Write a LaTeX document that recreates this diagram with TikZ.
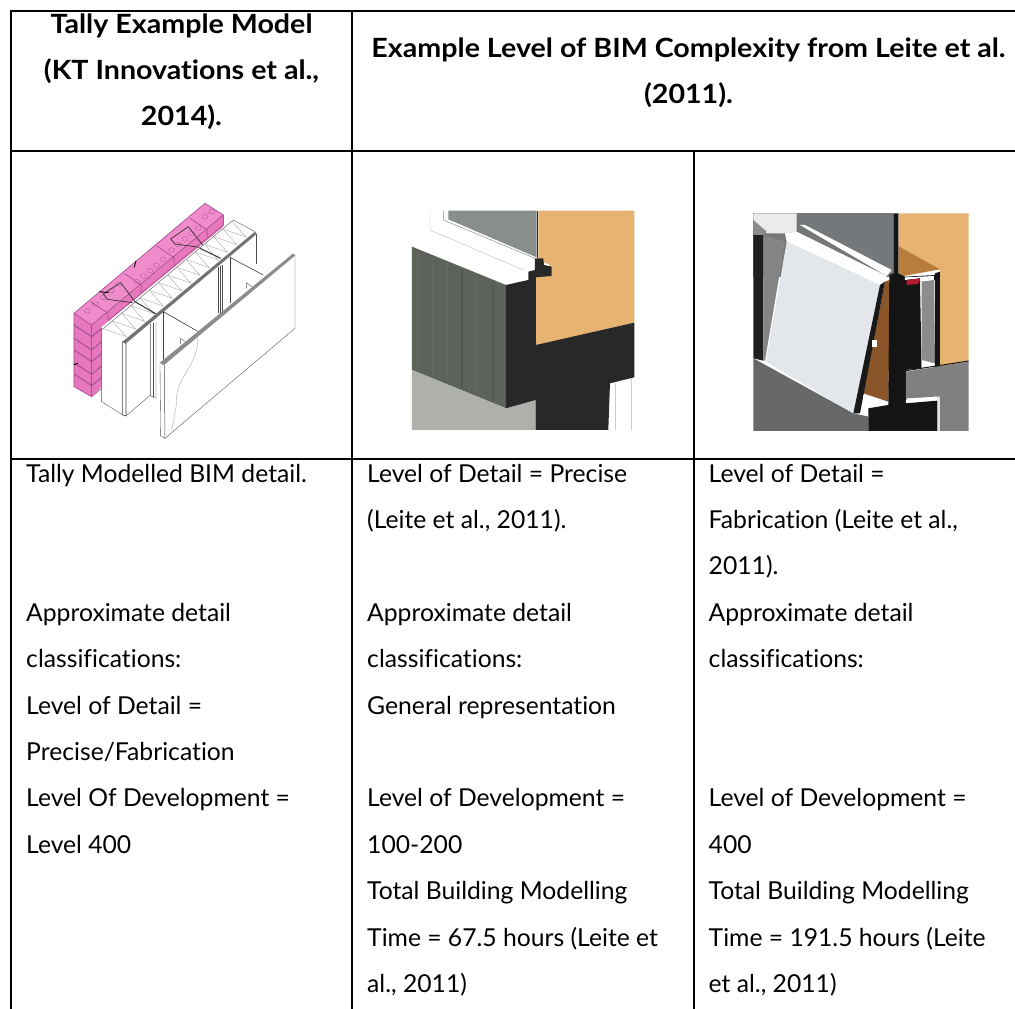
\documentclass[tikz,border=0pt]{standalone}
\usepackage{fontspec}
\setmainfont{Lato}[Ligatures=NoCommon]
\newfontfamily\headfont{Lato}[FakeStretch=1.08,Ligatures=NoCommon]
\definecolor{brickT}{HTML}{F08CCB}
\definecolor{brickS}{HTML}{E878BE}
\definecolor{brickL}{HTML}{A85090}
\definecolor{glass}{HTML}{888E8C}
\definecolor{ply}{HTML}{E6B373}
\definecolor{blk}{HTML}{282828}
\definecolor{conc}{HTML}{5D625A}
\definecolor{concL}{HTML}{666B63}
\definecolor{paleg}{HTML}{ADB0AB}
\definecolor{wallg}{HTML}{75787A}
\definecolor{floorg}{HTML}{66686A}
\definecolor{panel}{HTML}{E3E6EA}
\definecolor{brown}{HTML}{8A5528}
\definecolor{brownL}{HTML}{B87D3D}
\definecolor{redp}{HTML}{B01C30}
\tikzset{
  rule/.style={line width=2pt,black},
  bodytext/.style={anchor=north west,inner sep=0pt,align=left,font=\fontsize{24.7}{46.4}\selectfont},
  headtext/.style={anchor=north,inner sep=0pt,align=center,font=\fontsize{26.5}{46.4}\selectfont\headfont\bfseries},
  drawing/.style={x=0.3333pt,y=-0.3333pt},
  thinl/.style={line width=0.35pt,black!70},
  bk/.style={line width=0.7pt,brickL},
}
\begin{document}
\begin{tikzpicture}[x=1pt,y=-1pt]
\useasboundingbox (0,0) rectangle (1015,1009);
\fill[white] (0,0) rectangle (1015,1009);

% ---------- image 1 : brick / stud wall
\begin{scope}[shift={(0pt,-170pt)},drawing]
  \fill[brickS] (222,430) -- (275,465) -- (670,135) -- (670,170) -- (305,470) -- (305,650) -- (275,680) -- (222,650) -- cycle;
  \fill[brickT] (222,430) -- (615,100) -- (670,135) -- (275,465) -- cycle;
  \draw[bk] (222,430) -- (615,100) -- (670,135) -- (275,465) -- cycle;
  \draw[bk] (222,430) -- (222,650) -- (275,680) -- (305,655);
  \draw[bk] (275,465) -- (275,680);
  \foreach \d in {35,75,110,148,182}{
    \draw[line width=1.1pt,brickL] (222,430+\d) -- (275,465+\d) -- (305,440+\d);
  }
  \foreach \a/\b in {272/395,372/310,470/228,570/145}{
    \draw[bk] (\a,\b) -- (\a+52,\b+35) -- (\a+52,\b+57);
  }
  \draw[bk] (275,465) -- (275,490) (670,135) -- (670,165);
  \draw[bk] (325,452) -- (670,165);
  \foreach \t in {0,...,4}{
    \draw[line width=0.3pt,brickL] ({262+\t*24},{422-\t*20}) ellipse (9 and 7);
    \draw[line width=0.3pt,brickL] ({410+\t*20},{335-\t*16.5}) ellipse (9 and 7);
    \draw[line width=0.3pt,brickL] ({515+\t*20},{240-\t*16.5}) ellipse (9 and 7);
  }
  \draw[line width=0.3pt,brickL] (615,140) ellipse (9 and 7) (635,124) ellipse (9 and 7);
  % insulation
  \fill[white] (305,480) -- (700,150) -- (765,185) -- (370,515) -- cycle;
  \draw[thinl] (305,480) -- (700,150) -- (765,185);
  \foreach \t in {0,...,13}{
    \draw[line width=0.3pt,black!40] ({310+\t*27.6},{476-\t*23}) -- ({379+\t*27.6},{500-\t*23}) -- ({337.6+\t*27.6},{453-\t*23});
  }
  \draw[line width=1.1pt,black!75] (405,395) -- (468,432) (600,235) -- (662,265);
  % wall body
  \fill[white] (305,480) -- (368,515) -- (368,735) -- (305,695) -- cycle;
  \draw[thinl] (305,480) -- (305,695) -- (368,735);
  \fill[white] (378,520) -- (768,192) -- (768,282) -- (378,738) -- cycle;
  \fill[black!55] (368,515) -- (765,185) -- (770,192) -- (378,520) -- cycle;
  \fill[white] (368,515) -- (378,520) -- (378,738) -- (368,735) -- cycle;
  \draw[line width=0.55pt,black!75] (368,515) -- (368,735) -- (378,738) -- (378,520) -- cycle;
  \draw[thinl] (378,738) -- (452,675);
  % studs
  \draw[thinl] (452,462) -- (452,678) -- (468,685) -- (468,455);
  \draw[thinl] (460,458) -- (460,680);
  \draw[thinl] (655,292) -- (655,430) (668,285) -- (668,425) (662,288) -- (662,428);
  \draw[line width=0.4pt,black!75] (490,425) -- (490,580);
  \draw[line width=0.55pt,black!80] (490,425) -- (595,485);
  \draw[line width=0.4pt,black!75] (690,262) -- (690,400);
  \draw[line width=0.55pt,black!80] (690,262) -- (790,315);
  \draw[thinl] (768,192) -- (768,282);
  \draw[thinl] (542,522) -- (542,505) -- (556,515);
  \draw[thinl] (740,355) -- (740,338) -- (755,350);
  % front board
  \fill[white] (480,578) -- (880,250) -- (885,255) -- (885,475) -- (495,805) -- (482,798) -- cycle;
  \fill[black!45] (480,578) -- (880,250) -- (885,257) -- (491,586) -- cycle;
  \draw[thinl] (885,255) -- (885,475) -- (495,805) -- (482,798) -- (480,578);
  \draw[line width=0.5pt,black!70] (493,586) -- (495,805);
  \draw[line width=0.3pt,black!40] (592,505) .. controls (600,570) and (530,630) .. (530,680) .. controls (530,720) and (520,750) .. (515,780);
  % ties
  \draw[line width=0.7pt,black!80,line join=round] (310,372) -- (362,338) -- (405,395) (310,372) -- (322,388) -- (398,398);
  \draw[line width=0.7pt,black!80,line join=round] (512,207) -- (565,170) -- (608,225) (512,207) -- (525,222) -- (600,232);
  \draw[line width=0.9pt,black] (298,365) -- (325,368) (403,292) -- (408,272) (222,584) -- (234,580);
\end{scope}

% ---------- image 2 : precise detail
\begin{scope}[shift={(350pt,-170pt)},drawing]
  \fill[glass] (295,122) -- (560,122) -- (560,262) -- (295,148) -- cycle;
  \draw[line width=0.4pt,black!25] (240,122) -- (240,180) -- (520,300);
  \draw[line width=0.5pt,black!45] (280,122) -- (280,150) -- (555,265);
  \fill[ply] (565,122) -- (853,122) -- (853,458) -- (558,527) -- (558,320) -- (605,315) -- (600,285) -- (565,270) -- cycle;
  \fill[conc] (186,230) -- (468,345) -- (468,715) -- (186,600) -- cycle;
  \foreach \x/\c in {205/concL,250/concL,290/concL,335/black!25!conc,380/concL,430/black!15!conc}{
    \draw[line width=2pt,\c,opacity=.45] (\x,{230+(\x-186)*0.41+6}) -- (\x,{600+(\x-186)*0.41-6});
  }
  \fill[paleg] (186,600) -- (468,715) -- (557,690) -- (557,780) -- (186,780) -- cycle;
  \fill[blk] (555,265) -- (580,265) -- (582,285) -- (605,290) -- (605,318) -- (558,322) -- (558,525) -- (853,458) -- (853,622) -- (780,640) -- (775,780) -- (557,780) -- (557,690) -- (468,715) -- (468,345) -- (535,330) -- (535,305) -- (555,300) -- cycle;
  \draw[line width=0.8pt,blk] (562,122) -- (562,265);
  \draw[line width=0.5pt,black!20] (795,640) -- (795,780) (845,625) -- (845,780);
\end{scope}

% ---------- image 3 : fabrication detail
\begin{scope}[shift={(690pt,-170pt)},drawing]
  \fill[wallg] (190,130) -- (610,130) -- (610,320) -- (190,320) -- cycle;
  \fill[white!92!black] (190,130) -- (320,130) -- (320,185) -- (285,190) -- (230,190) -- (190,150) -- cycle;
  \fill[ply] (625,130) -- (836,130) -- (836,575) -- (750,590) -- (750,300) -- (625,228) -- cycle;
  \fill[brownL] (625,228) -- (750,298) -- (640,318) -- (625,310) -- cycle;
  \fill[black!88] (190,190) -- (220,195) -- (220,572) -- (190,565) -- cycle;
  \fill[black!45] (190,150) -- (230,185) -- (220,195) -- (190,195) -- cycle;
  \fill[black!48] (220,195) -- (285,215) -- (225,572) -- (220,572) -- cycle;
  \fill[floorg] (190,565) -- (490,730) -- (535,740) -- (535,783) -- (190,783) -- cycle;
  \fill[panel] (290,215) -- (570,345) -- (490,730) -- (228,575) -- cycle;
  \fill[white] (285,190) -- (320,185) -- (590,318) -- (570,345) -- (290,215) -- cycle;
  \fill[white] (330,165) -- (345,165) -- (605,300) -- (590,318) -- cycle;
  \fill[brown] (585,335) -- (600,330) -- (595,695) -- (520,670) -- cycle;
  \fill[black!90] (570,345) -- (585,335) -- (510,730) -- (490,730) -- cycle;
  \fill[white] (520,675) -- (590,705) -- (520,715) -- cycle;
  \fill[white] (545,510) -- (560,510) -- (560,530) -- (545,530) -- cycle;
  \fill[black!92] (610,130) -- (625,130) -- (625,310) -- (645,320) -- (650,783) -- (535,783) -- (535,715) -- (595,705) -- (598,315) -- (610,310) -- cycle;
  \fill[black!92] (645,320) -- (740,315) -- (735,330) -- (690,335) -- (695,595) -- (645,600) -- cycle;
  \fill[white] (645,322) -- (732,318) -- (732,332) -- (690,335) -- (690,325) -- (645,330) -- cycle;
  \fill[redp] (650,330) -- (690,325) -- (685,342) -- (650,345) -- cycle;
  \fill[black!45] (695,335) -- (732,330) -- (735,580) -- (695,570) -- cycle;
  \fill[white] (695,572) -- (735,582) -- (735,592) -- (695,595) -- cycle;
  \fill[black!92] (735,310) -- (750,305) -- (750,590) -- (735,590) -- cycle;
  \fill[black!50] (648,605) -- (836,575) -- (836,783) -- (750,783) -- (750,680) -- (648,685) -- cycle;
  \draw[line width=1pt,black!90] (648,602) -- (836,573);
  \fill[white] (648,690) -- (735,680) -- (735,695) -- (648,700) -- cycle;
  \fill[black!92] (648,700) -- (742,692) -- (742,783) -- (648,783) -- cycle;
  \fill[black!10] (735,678) -- (750,682) -- (750,783) -- (744,783) -- (744,690) -- cycle;
\end{scope}

% ---------- table rules
\draw[rule] (10,11) -- (1015,11);
\draw[rule] (11,151) -- (1015,151);
\draw[rule] (11,458.5) -- (1015,458.5);
\draw[rule] (11,11) -- (11,1009);
\draw[rule] (352,11) -- (352,1009);
\draw[rule] (693.5,151) -- (693.5,1009);

% ---------- texts
\node[headtext] (head1) at (181.5,0.5) {\strut Tally Example Model\\(KT Innovations et al.,\\2014).};
\node[headtext] (head2) at (688.5,24.5) {\strut Example Level of BIM Complexity from Leite et al.\\(2011).};
\node[bodytext] (cell1) at (26,449.5) {\strut Tally Modelled BIM detail.\\ \mbox{}\\ \mbox{}\\Approximate detail\\classifications:\\Level of Detail =\\Precise/Fabrication\\Level Of Development =\\Level 400};
\node[bodytext] (cell2) at (367,449.5) {\strut Level of Detail = Precise\\(Leite et al., 2011).\\ \mbox{}\\Approximate detail\\classifications:\\General representation\\ \mbox{}\\Level of Development =\\100-200\\Total Building Modelling\\Time = 67.5 hours (Leite et\\al., 2011)};
\node[bodytext] (cell3) at (708.5,449.5) {\strut Level of Detail =\\Fabrication (Leite et al.,\\2011).\\Approximate detail\\classifications:\\ \mbox{}\\ \mbox{}\\Level of Development =\\400\\Total Building Modelling\\Time = 191.5 hours (Leite\\et al., 2011)};
\end{tikzpicture}
\end{document}
